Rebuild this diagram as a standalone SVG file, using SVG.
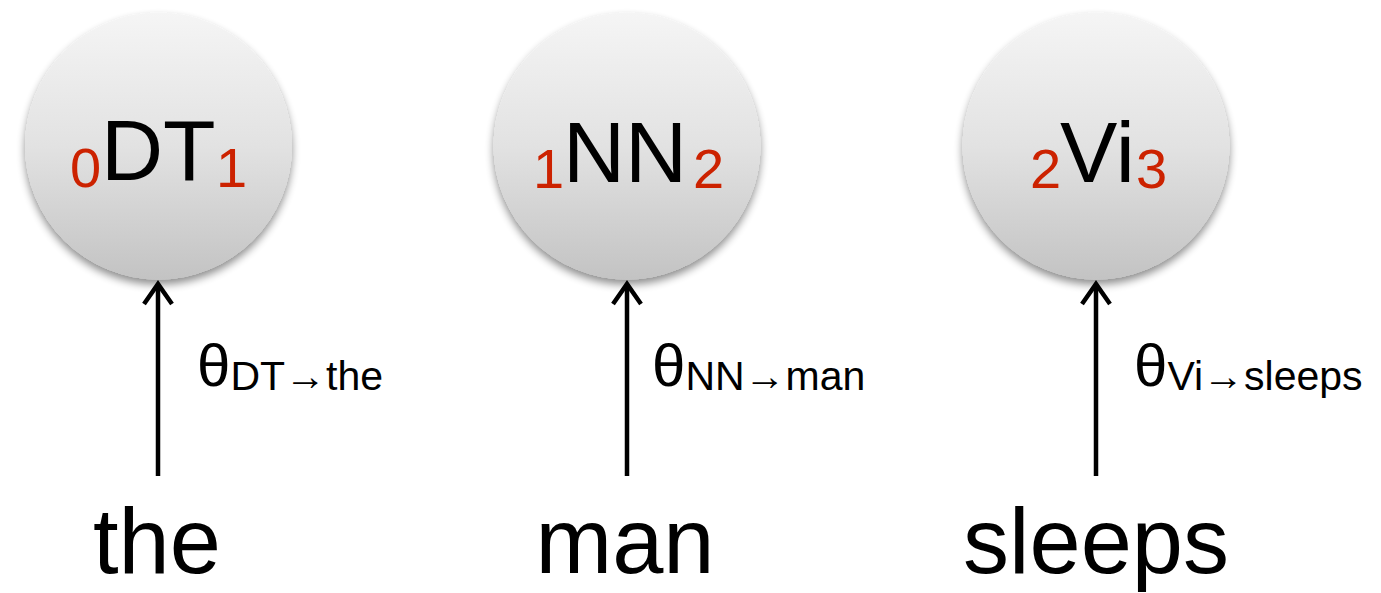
<svg xmlns="http://www.w3.org/2000/svg" width="1381" height="593" viewBox="0 0 1381 593">
<defs>
<linearGradient id="g" x1="0" y1="0" x2="0" y2="1">
<stop offset="0" stop-color="#f5f5f5"/>
<stop offset="0.5" stop-color="#e2e2e2"/>
<stop offset="1" stop-color="#c3c3c3"/>
</linearGradient>
<filter id="sh" x="-20%" y="-20%" width="140%" height="150%">
<feGaussianBlur in="SourceAlpha" stdDeviation="4"/>
<feOffset dy="5" result="b"/>
<feComponentTransfer><feFuncA type="linear" slope="0.45"/></feComponentTransfer>
<feMerge><feMergeNode/><feMergeNode in="SourceGraphic"/></feMerge>
</filter>
</defs>
<style>
text{font-family:"Liberation Sans",Arial,sans-serif;fill:#000}
.big{font-size:86px}
.sub{font-size:56px;fill:#cc2200}
.th{font-size:60px}
.ls{font-size:41px}
.word{font-size:92px;text-anchor:middle}
.node circle{fill:url(#g);filter:url(#sh)}
.conn line,.conn path{stroke:#000;stroke-width:4.5;fill:none}
</style>
<g id="node-dt" class="node">
<circle cx="158.5" cy="146" r="133.5"/>
<text class="sub" x="70" y="187">0</text>
<text class="big" x="101" y="180">DT</text>
<text class="sub" x="216" y="187">1</text>
</g>
<g id="node-nn" class="node">
<circle cx="627" cy="146" r="133.5"/>
<text class="sub" x="533" y="188">1</text>
<text class="big" x="563" y="182">NN</text>
<text class="sub" x="693" y="188">2</text>
</g>
<g id="node-vi" class="node">
<circle cx="1096" cy="146" r="133.5"/>
<text class="sub" x="1030" y="188">2</text>
<text class="big" x="1060" y="182">Vi</text>
<text class="sub" x="1136" y="188">3</text>
</g>
<g id="connectors" class="conn">
<line x1="158" y1="284" x2="158" y2="476"/>
<path d="M144,304 L158,284 L172,304"/>
<line x1="627" y1="284" x2="627" y2="476"/>
<path d="M613,304 L627,284 L641,304"/>
<line x1="1096" y1="284" x2="1096" y2="476"/>
<path d="M1082,304 L1096,284 L1110,304"/>
</g>
<g id="label-dt">
<text x="197" y="386"><tspan class="th">θ</tspan><tspan class="ls" y="390">DT→the</tspan></text>
</g>
<g id="label-nn">
<text x="652" y="386"><tspan class="th">θ</tspan><tspan class="ls" y="390">NN→man</tspan></text>
</g>
<g id="label-vi">
<text x="1134" y="386"><tspan class="th">θ</tspan><tspan class="ls" y="390">Vi→sleeps</tspan></text>
</g>
<g id="word-the"><text class="word" x="157" y="573">the</text></g>
<g id="word-man"><text class="word" x="625" y="573">man</text></g>
<g id="word-sleeps"><text class="word" x="1096" y="573">sleeps</text></g>
</svg>
